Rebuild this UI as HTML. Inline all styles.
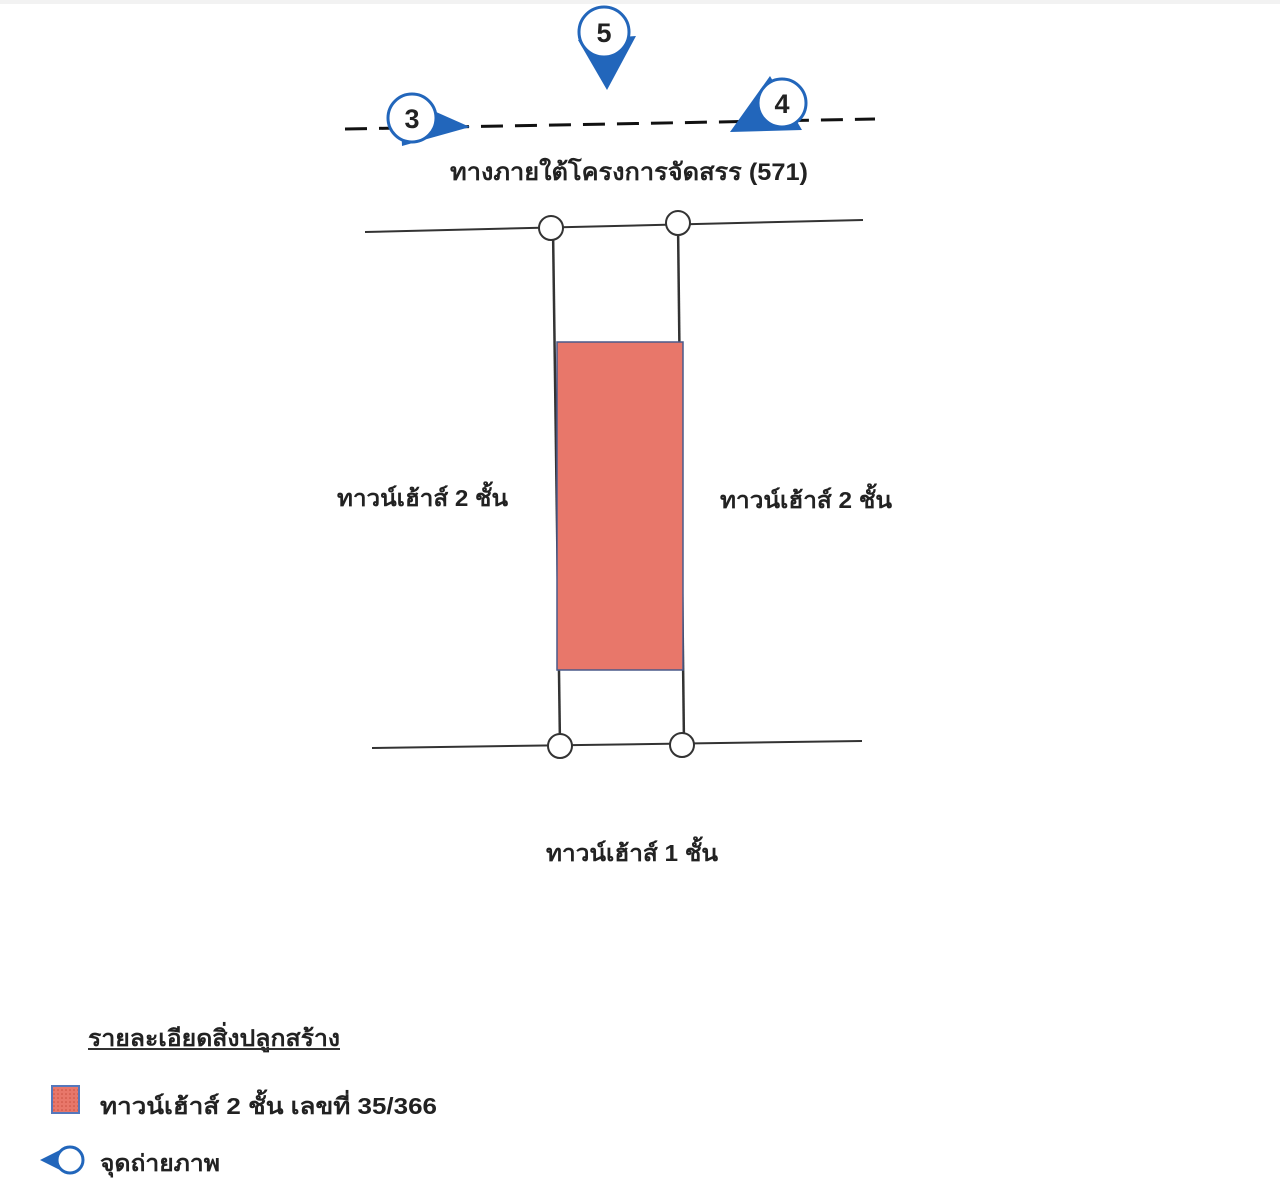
<!DOCTYPE html>
<html><head><meta charset="utf-8"><style>
html,body{margin:0;padding:0;background:#fff;}
svg{display:block;}
text{font-family:"Liberation Sans","DejaVu Sans",sans-serif;font-weight:bold;fill:#222;}
</style></head><body>
<svg width="1280" height="1187" viewBox="0 0 1280 1187" xmlns="http://www.w3.org/2000/svg">
<defs>
<pattern id="dots" width="4" height="4" patternUnits="userSpaceOnUse">
<rect width="4" height="4" fill="#e8776a"/><circle cx="2" cy="2" r="0.8" fill="#c9503f"/>
</pattern>
</defs>
<rect x="0" y="0" width="1280" height="4" fill="#f2f2f2"/>
<line x1="345" y1="129" x2="875" y2="119" stroke="#111" stroke-width="3" stroke-dasharray="22,12"/>
<polygon points="400,96 470,127 402,146" fill="#2266bb"/>
<circle cx="412" cy="118" r="24" fill="#fff" stroke="#2266bb" stroke-width="3"/>
<text x="412" y="128" font-size="27" text-anchor="middle">3</text>
<polygon points="578,40 607,90 636,36" fill="#2266bb"/>
<circle cx="604" cy="32" r="25" fill="#fff" stroke="#2266bb" stroke-width="3"/>
<text x="604" y="42" font-size="27" text-anchor="middle">5</text>
<polygon points="770,76 730,132 802,130" fill="#2266bb"/>
<circle cx="782" cy="103" r="24" fill="#fff" stroke="#2266bb" stroke-width="3"/>
<text x="782" y="113" font-size="27" text-anchor="middle">4</text>
<text x="450" y="180" font-size="24" textLength="358" lengthAdjust="spacingAndGlyphs">ทางภายใต้โครงการจัดสรร (571)</text>
<line x1="365" y1="232" x2="863" y2="220" stroke="#333" stroke-width="2"/>
<line x1="372" y1="748" x2="862" y2="741" stroke="#333" stroke-width="2"/>
<line x1="553" y1="228" x2="560" y2="746" stroke="#333" stroke-width="2.5"/>
<line x1="678" y1="223" x2="684" y2="745" stroke="#333" stroke-width="2.5"/>
<rect x="557" y="342" width="126" height="328" fill="#e8776a" stroke="#4a5a8a" stroke-width="1.5"/>
<circle cx="551" cy="228" r="12" fill="#fff" stroke="#333" stroke-width="2"/>
<circle cx="678" cy="223" r="12" fill="#fff" stroke="#333" stroke-width="2"/>
<circle cx="560" cy="746" r="12" fill="#fff" stroke="#333" stroke-width="2"/>
<circle cx="682" cy="745" r="12" fill="#fff" stroke="#333" stroke-width="2"/>
<text x="337" y="506" font-size="23" textLength="171" lengthAdjust="spacingAndGlyphs">ทาวน์เฮ้าส์ 2 ชั้น</text>
<text x="720" y="508" font-size="23" textLength="172" lengthAdjust="spacingAndGlyphs">ทาวน์เฮ้าส์ 2 ชั้น</text>
<text x="546" y="861" font-size="23" textLength="172" lengthAdjust="spacingAndGlyphs">ทาวน์เฮ้าส์ 1 ชั้น</text>
<text x="88" y="1046" font-size="23" textLength="252" lengthAdjust="spacingAndGlyphs">รายละเอียดสิ่งปลูกสร้าง</text>
<line x1="88" y1="1049" x2="340" y2="1049" stroke="#333" stroke-width="2"/>
<rect x="52" y="1086" width="27" height="27" fill="url(#dots)" stroke="#5577bb" stroke-width="2"/>
<text x="100" y="1114" font-size="23" textLength="337" lengthAdjust="spacingAndGlyphs">ทาวน์เฮ้าส์ 2 ชั้น เลขที่ 35/366</text>
<polygon points="40,1160 68,1146 68,1174" fill="#2266bb"/>
<circle cx="70" cy="1160" r="13" fill="#fff" stroke="#2266bb" stroke-width="3"/>
<text x="100" y="1171" font-size="23" textLength="120" lengthAdjust="spacingAndGlyphs">จุดถ่ายภาพ</text>
</svg>
</body></html>
